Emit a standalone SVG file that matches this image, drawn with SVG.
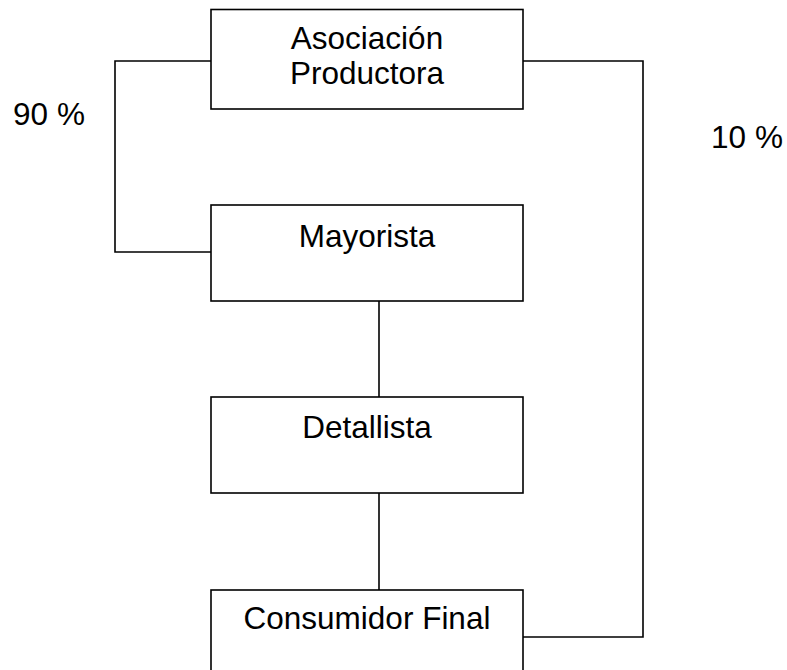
<svg xmlns="http://www.w3.org/2000/svg" width="787" height="670" viewBox="0 0 787 670">
<style>
.box{fill:#fff;stroke:#000;stroke-width:1.6}
.ln{fill:none;stroke:#000;stroke-width:1.6}
text{font-family:"Liberation Sans",Arial,sans-serif;font-size:31.5px;fill:#000;text-anchor:middle}
</style>
<rect width="787" height="670" fill="#fff"/>
<g id="connectors">
<polyline class="ln" points="211,61 115,61 115,252 211,252"/>
<polyline class="ln" points="523,61 643,61 643,637 523,637"/>
<line class="ln" x1="379" y1="301" x2="379" y2="397"/>
<line class="ln" x1="379" y1="493" x2="379" y2="590"/>
</g>
<g id="asociacion">
<rect class="box" x="211" y="9.5" width="312" height="99.5"/>
<text x="367" y="49">Asociación</text>
<text x="367" y="84">Productora</text>
</g>
<g id="mayorista">
<rect class="box" x="211" y="205" width="312" height="96"/>
<text x="367" y="247">Mayorista</text>
</g>
<g id="detallista">
<rect class="box" x="211" y="397" width="312" height="96"/>
<text x="367" y="438">Detallista</text>
</g>
<g id="consumidor">
<rect class="box" x="211" y="590" width="312" height="110"/>
<text x="367" y="629">Consumidor Final</text>
</g>
<g id="labels">
<text x="49" y="125">90 %</text>
<text x="747" y="148">10 %</text>
</g>
</svg>
